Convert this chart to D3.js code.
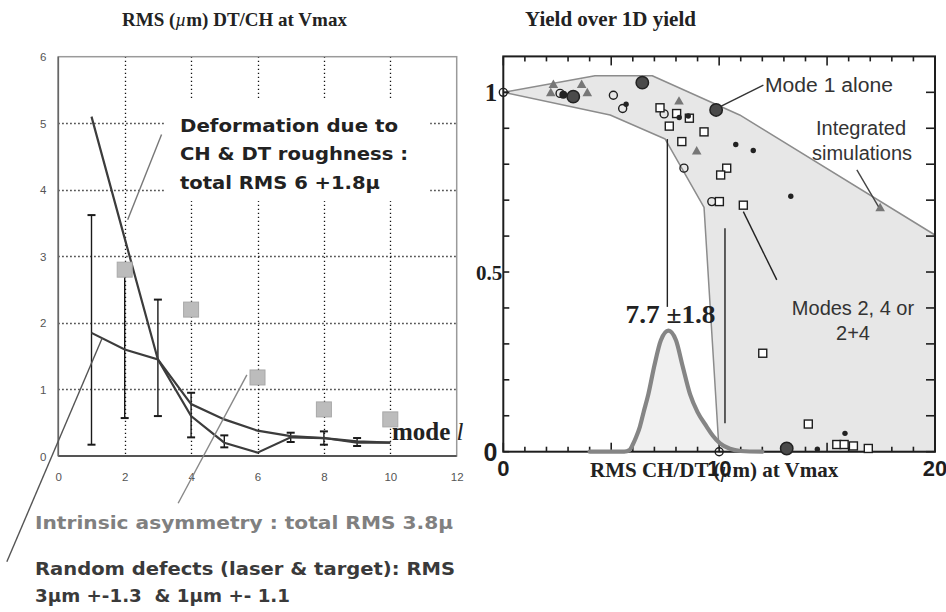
<!DOCTYPE html>
<html><head><meta charset="utf-8">
<script src="https://cdn.jsdelivr.net/npm/d3@7"></script>
<style>body{margin:0;background:#fff;} svg{display:block;}</style>
</head><body>
<svg id="chart" width="946" height="612"></svg>
<script>
// ---------- left panel: RMS (µm) per perturbation mode ----------
const modes = [1, 2, 3, 4, 5, 6, 7, 8, 9, 10];
const deformationRms = [5.1, 3.27, 1.45, 0.78, 0.55, 0.38, 0.3, 0.27, 0.22, 0.2];
const randomRms = [1.85, 1.6, 1.45, 0.6, 0.2, 0.05, 0.28, 0.27, 0.2, 0.2];
const randomErrLow = [0.17, 0.57, 0.6, 0.28, 0.13, null, 0.21, 0.17, 0.15, null];
const randomErrHigh = [3.62, 2.75, 2.35, 0.95, 0.31, null, 0.35, 0.37, 0.27, null];
const asymmetryModes = [2, 4, 6, 8, 10];
const asymmetryRms = [2.8, 2.2, 1.18, 0.7, 0.55];
const leftXTicks = [0, 2, 4, 6, 8, 10, 12];
const leftYTicks = [0, 1, 2, 3, 4, 5, 6];

// ---------- right panel: yield over 1D yield vs RMS ----------
const envelopeX = [0, 4.25, 6.9, 10.95, 20, 20, 10, 9.3, 7.5, 4.95, 0];
const envelopeY = [1.0, 1.046, 1.046, 0.937, 0.603, 0, 0, 0.68, 0.87, 0.937, 1.0];
const rmsDistX = [4.0, 5.6, 5.85, 6.0, 6.15, 6.33, 6.5, 6.72, 7.0, 7.3, 7.65, 8.0, 8.3, 8.65, 9.0, 9.42, 9.7, 10.04, 10.5, 11.0, 12.0];
const rmsDistY = [0, 0, 0.005, 0.02, 0.04, 0.07, 0.11, 0.16, 0.24, 0.31, 0.337, 0.31, 0.24, 0.16, 0.11, 0.07, 0.045, 0.023, 0.008, 0.002, 0];
const rmsMean = 7.7;
const rmsSpread = 1.8;
const triangleX = [2.32, 2.20, 3.63, 3.89, 8.14, 8.96, 17.46];
const triangleY = [1.02, 0.997, 1.02, 0.997, 0.974, 0.835, 0.677];
const bigDotX = [3.24, 6.44, 9.86, 13.13];
const bigDotY = [0.988, 1.027, 0.951, 0.009];
const smallDotX = [2.78];
const smallDotY = [0.993];
const openCircleX = [0, 2.63, 5.10, 5.53, 7.45, 8.37, 9.66, 10];
const openCircleY = [1.0, 0.997, 0.992, 0.955, 0.94, 0.789, 0.696, 0];
const openSquareX = [7.26, 7.69, 8.03, 8.62, 8.27, 9.30, 10.35, 10.07, 10.01, 11.12, 12.02, 14.13, 15.45, 15.79, 16.22, 16.91];
const openSquareY = [0.957, 0.906, 0.941, 0.928, 0.863, 0.890, 0.789, 0.770, 0.696, 0.686, 0.274, 0.077, 0.020, 0.020, 0.016, 0.009];
const starX = [5.69, 8.15, 8.57, 10.77, 11.58, 13.32, 15.83, 14.55];
const starY = [0.967, 0.93, 0.934, 0.855, 0.838, 0.711, 0.051, 0.007];
const rightXLabels = ["0", "10", "20"];
const rightXLabelValues = [0, 10, 20];
const rightYLabels = ["0", "0.5", "1"];
const rightYLabelValues = [0, 0.5, 1];

const svg = d3.select("#chart");
const serif = "'Liberation Serif','DejaVu Serif',serif";
const sans = "'Liberation Sans','DejaVu Sans',sans-serif";
const rounded = "'DejaVu Sans',sans-serif";

// =============== LEFT PANEL ===============
const xL = d3.scaleLinear().domain([0, 12]).range([58.3, 456.7]);
const yL = d3.scaleLinear().domain([0, 6]).range([456, 56.7]);
const gL = svg.append("g");

// dotted grid
const gridStyle = sel => sel.attr("stroke", "#111").attr("stroke-width", 1.3).attr("stroke-dasharray", "1.3,2.7");
gL.append("g").selectAll("line").data(leftXTicks.filter(t => t > 0 && t < 12)).join("line")
  .attr("x1", d => Math.round(xL(d)) + 0.5).attr("x2", d => Math.round(xL(d)) + 0.5).attr("y1", yL(6)).attr("y2", yL(0))
  .call(gridStyle);
gL.append("g").selectAll("line").data(leftYTicks.filter(t => t > 0 && t < 6)).join("line")
  .attr("x1", xL(0)).attr("x2", xL(12)).attr("y1", d => Math.round(yL(d)) + 0.5).attr("y2", d => Math.round(yL(d)) + 0.5)
  .call(gridStyle);

// frame
gL.append("rect").attr("x", xL(0)).attr("y", yL(6)).attr("width", xL(12) - xL(0)).attr("height", yL(0) - yL(6))
  .attr("fill", "none").attr("stroke", "#9a9a9a").attr("stroke-width", 1.5);
gL.append("line").attr("x1", xL(0)).attr("x2", xL(12)).attr("y1", yL(0)).attr("y2", yL(0)).attr("stroke", "#555").attr("stroke-width", 1.8);
gL.append("line").attr("x1", xL(0)).attr("x2", xL(0)).attr("y1", yL(0)).attr("y2", yL(6)).attr("stroke", "#666").attr("stroke-width", 1.6);

// tick labels via d3 axes
const axL = gL.append("g").attr("transform", `translate(${xL(0) - 15},0)`)
  .call(d3.axisLeft(yL).tickValues(leftYTicks).tickFormat(d3.format("d")).tickSize(0).tickPadding(0));
const axB = gL.append("g").attr("transform", `translate(0,${yL(0) + 21})`)
  .call(d3.axisBottom(xL).tickValues(leftXTicks).tickFormat(d3.format("d")).tickSize(0).tickPadding(0));
[axL, axB].forEach(a => {
  a.select(".domain").remove();
  a.selectAll("text").attr("font-family", sans).attr("font-size", 11.5).attr("fill", "#555");
});
axL.selectAll("text").attr("text-anchor", "middle").attr("dy", "0.35em");
axB.selectAll("text").attr("dy", "0.35em");

// white backing under the deformation caption
gL.append("rect").attr("x", xL(3.2)).attr("y", yL(5.35)).attr("width", xL(11.2) - xL(3.2)).attr("height", yL(3.83) - yL(5.35))
  .attr("fill", "#fff");

// error bars
const errData = modes.map((m, i) => ({ m, lo: randomErrLow[i], hi: randomErrHigh[i] })).filter(d => d.lo != null);
const gErr = gL.append("g").attr("stroke", "#1a1a1a").attr("stroke-width", 1.4);
gErr.selectAll("line.v").data(errData).join("line").attr("class", "v")
  .attr("x1", d => xL(d.m)).attr("x2", d => xL(d.m)).attr("y1", d => yL(d.lo)).attr("y2", d => yL(d.hi));
gErr.selectAll("line.lo").data(errData).join("line").attr("class", "lo")
  .attr("x1", d => xL(d.m) - 4).attr("x2", d => xL(d.m) + 4).attr("y1", d => yL(d.lo)).attr("y2", d => yL(d.lo)).attr("stroke-width", 2);
gErr.selectAll("line.hi").data(errData).join("line").attr("class", "hi")
  .attr("x1", d => xL(d.m) - 4).attr("x2", d => xL(d.m) + 4).attr("y1", d => yL(d.hi)).attr("y2", d => yL(d.hi)).attr("stroke-width", 2);

// RMS lines
const lineL = d3.line().x(d => xL(d[0])).y(d => yL(d[1]));
gL.append("path").datum(modes.map((m, i) => [m, deformationRms[i]]))
  .attr("d", lineL).attr("fill", "none").attr("stroke", "#3c3c3c").attr("stroke-width", 2.2);
gL.append("path").datum(modes.map((m, i) => [m, randomRms[i]]))
  .attr("d", lineL).attr("fill", "none").attr("stroke", "#3c3c3c").attr("stroke-width", 2.2);

// intrinsic asymmetry squares
gL.append("g").selectAll("rect").data(asymmetryModes.map((m, i) => [m, asymmetryRms[i]])).join("rect")
  .attr("x", d => xL(d[0]) - 7.5).attr("y", d => yL(d[1]) - 7.5).attr("width", 15).attr("height", 15)
  .attr("fill", "#bcbcbc").attr("stroke", "#a8a8a8").attr("stroke-width", 1);

// pointer lines
const pointer = (g, sx, sy, a, b, c, d, col) => g.append("line")
  .attr("x1", sx(a)).attr("y1", sy(b)).attr("x2", sx(c)).attr("y2", sy(d))
  .attr("stroke", col).attr("stroke-width", 1.4);
pointer(gL, xL, yL, 3.11, 4.83, 2.09, 3.55, "#777");
pointer(gL, xL, yL, 5.68, 1.22, 3.61, -0.71, "#888");
pointer(gL, xL, yL, 1.32, 1.77, -1.55, -1.59, "#555");

// captions
const cap = gL.append("g").attr("font-family", rounded).attr("font-weight", "bold").attr("font-size", 18).attr("fill", "#222");
[["Deformation due to", 218], ["CH & DT roughness :", 228], ["total RMS 6 +1.8\u00b5", 200]].forEach((t, i) => {
  cap.append("text").attr("x", 180).attr("y", 132 + i * 28.3).text(t[0])
    .attr("textLength", t[1]).attr("lengthAdjust", "spacingAndGlyphs");
});
gL.append("text").attr("x", 392).attr("y", 440).attr("font-family", serif).attr("font-weight", "bold")
  .attr("font-size", 25).attr("fill", "#222")
  .call(t => { t.append("tspan").text("mode "); t.append("tspan").attr("font-style", "italic").attr("font-weight", "normal").text("l"); });

const bottomCap = svg.append("g").attr("font-family", rounded).attr("font-weight", "bold").attr("font-size", 18);
bottomCap.append("text").attr("x", 35).attr("y", 529).attr("fill", "#808080")
  .text("Intrinsic asymmetry : total RMS 3.8\u00b5").attr("textLength", 418).attr("lengthAdjust", "spacingAndGlyphs");
bottomCap.append("text").attr("x", 35).attr("y", 575).attr("fill", "#3a3a3a")
  .text("Random defects (laser & target): RMS").attr("textLength", 420).attr("lengthAdjust", "spacingAndGlyphs");
bottomCap.append("text").attr("x", 35).attr("y", 602).attr("fill", "#3a3a3a").attr("xml:space", "preserve")
  .text("3\u00b5m +-1.3  & 1\u00b5m +- 1.1").attr("textLength", 255).attr("lengthAdjust", "spacingAndGlyphs");

// =============== RIGHT PANEL ===============
const xR = d3.scaleLinear().domain([0, 20]).range([503.3, 935]);
const yR = d3.scaleLinear().domain([0, 1.1]).range([451.7, 56.4]);
const gR = svg.append("g");

// shaded envelope
gR.append("path").datum(envelopeX.map((x, i) => [x, envelopeY[i]]))
  .attr("d", d3.line().x(d => xR(d[0])).y(d => yR(d[1])))
  .attr("fill", "#e7e7e7").attr("stroke", "#8c8c8c").attr("stroke-width", 1.5).attr("stroke-linejoin", "round");

// RMS distribution
const distPts = rmsDistX.map((x, i) => [x, rmsDistY[i]]);
gR.append("path").datum(distPts)
  .attr("d", d3.area().x(d => xR(d[0])).y0(yR(0)).y1(d => yR(d[1])).curve(d3.curveMonotoneX))
  .attr("fill", "#f0f0f0");

// frame + ticks
gR.append("rect").attr("x", xR(0)).attr("y", yR(1.1)).attr("width", xR(20) - xR(0)).attr("height", yR(0) - yR(1.1))
  .attr("fill", "none").attr("stroke", "#1e1e1e").attr("stroke-width", 2);
const xt = d3.range(0, 21, 1);
const yt = d3.range(0, 1.05, 0.1);
const tk = gR.append("g").attr("stroke", "#1e1e1e").attr("stroke-width", 1.6);
tk.selectAll("line.t").data(xt).join("line").attr("class", "t")
  .attr("x1", d => xR(d)).attr("x2", d => xR(d)).attr("y1", yR(1.1)).attr("y2", d => yR(1.1) + (d % 5 === 0 ? 9 : 5));
tk.selectAll("line.b").data(xt).join("line").attr("class", "b")
  .attr("x1", d => xR(d)).attr("x2", d => xR(d)).attr("y1", yR(0)).attr("y2", d => yR(0) - (d % 5 === 0 ? 9 : 5));
tk.selectAll("line.l").data(yt).join("line").attr("class", "l")
  .attr("x1", xR(0)).attr("x2", xR(0) + 6).attr("y1", d => yR(d)).attr("y2", d => yR(d));
tk.selectAll("line.r").data(yt).join("line").attr("class", "r")
  .attr("x1", xR(20)).attr("x2", xR(20) - 9).attr("y1", d => yR(d)).attr("y2", d => yR(d));

// distribution curve
gR.append("path").datum(distPts)
  .attr("d", d3.line().x(d => xR(d[0])).y(d => yR(d[1])).curve(d3.curveMonotoneX))
  .attr("fill", "none").attr("stroke", "#858585").attr("stroke-width", 4.2).attr("stroke-linecap", "round");

// guide verticals
pointer(gR, xR, yR, 7.6, 0.87, 7.6, 0.403, "#222");
pointer(gR, xR, yR, 10.27, 0.622, 10.27, 0.079, "#222");

// markers
const pts = (xs, ys) => xs.map((x, i) => [x, ys[i]]);
gR.append("g").selectAll("path").data(pts(triangleX, triangleY)).join("path")
  .attr("transform", d => `translate(${xR(d[0])},${yR(d[1])})`)
  .attr("d", d3.symbol(d3.symbolTriangle, 40)).attr("fill", "#777");
gR.append("g").selectAll("circle").data(pts(openCircleX, openCircleY)).join("circle")
  .attr("cx", d => xR(d[0])).attr("cy", d => yR(d[1])).attr("r", 4)
  .attr("fill", "none").attr("stroke", "#1e1e1e").attr("stroke-width", 1.4);
gR.append("g").selectAll("rect").data(pts(openSquareX, openSquareY)).join("rect")
  .attr("x", d => xR(d[0]) - 4).attr("y", d => yR(d[1]) - 4).attr("width", 8).attr("height", 8)
  .attr("fill", "#fff").attr("stroke", "#1e1e1e").attr("stroke-width", 1.4);
gR.append("g").selectAll("circle").data(pts(starX, starY)).join("circle")
  .attr("cx", d => xR(d[0])).attr("cy", d => yR(d[1])).attr("r", 2.7).attr("fill", "#222");
gR.append("g").selectAll("circle").data(pts(bigDotX, bigDotY)).join("circle")
  .attr("cx", d => xR(d[0])).attr("cy", d => yR(d[1])).attr("r", 6.2)
  .attr("fill", "#4a4a4a").attr("stroke", "#222").attr("stroke-width", 1.5);
gR.append("g").selectAll("circle").data(pts(smallDotX, smallDotY)).join("circle")
  .attr("cx", d => xR(d[0])).attr("cy", d => yR(d[1])).attr("r", 4)
  .attr("fill", "#222");

// annotation pointers
pointer(gR, xR, yR, 10.05, 0.96, 12.05, 1.02, "#333");
pointer(gR, xR, yR, 16.38, 0.784, 17.38, 0.682, "#444");
pointer(gR, xR, yR, 11.12, 0.668, 12.67, 0.478, "#222");

// annotation text
const ann = gR.append("g").attr("font-family", sans).attr("font-size", 20).attr("fill", "#333");
ann.append("text").attr("x", 765).attr("y", 92).text("Mode 1 alone").attr("textLength", 128).attr("lengthAdjust", "spacingAndGlyphs");
ann.append("text").attr("x", 861).attr("y", 135).attr("text-anchor", "middle").text("Integrated");
ann.append("text").attr("x", 862).attr("y", 160).attr("text-anchor", "middle").text("simulations");
ann.append("text").attr("x", 853).attr("y", 315).attr("text-anchor", "middle").text("Modes 2, 4 or");
ann.append("text").attr("x", 853).attr("y", 340).attr("text-anchor", "middle").text("2+4");

gR.append("text").attr("x", xR(rmsMean) + 1).attr("y", 323).attr("text-anchor", "middle")
  .attr("font-family", serif).attr("font-weight", "bold").attr("font-size", 25).attr("fill", "#222")
  .text(`${rmsMean} \u00b1${rmsSpread}`).attr("textLength", 90).attr("lengthAdjust", "spacingAndGlyphs");

// axis title (drawn first so the tick numbers sit on top of it)
gR.append("text").attr("x", 590).attr("y", 477).attr("font-family", serif).attr("font-weight", "bold")
  .attr("font-size", 21).attr("fill", "#222")
  .call(t => {
    t.append("tspan").text("RMS CH/DT (");
    t.append("tspan").attr("font-style", "italic").attr("font-weight", "normal").text("\u00b5");
    t.append("tspan").text("m) at Vmax");
  });

// axis labels
gR.append("g").selectAll("text").data(rightYLabelValues).join("text")
  .attr("x", d => d === 0.5 ? xR(0) - 1 : xR(0) - 6).attr("y", d => yR(d)).attr("dy", "0.36em")
  .attr("text-anchor", "end").attr("font-weight", "bold").attr("fill", "#1e1e1e")
  .attr("font-size", (d, i) => i === 1 ? 21 : 25)
  .attr("font-family", (d, i) => i === 0 ? sans : serif)
  .text((d, i) => rightYLabels[i]);
gR.append("g").selectAll("text").data(rightXLabelValues).join("text")
  .attr("x", d => xR(d)).attr("y", 476).attr("text-anchor", "middle")
  .attr("font-family", sans).attr("font-weight", "bold").attr("font-size", 22).attr("fill", "#1e1e1e")
  .text((d, i) => rightXLabels[i]);

// panel titles
const ttl = svg.append("g").attr("font-family", serif).attr("font-weight", "bold").attr("font-size", 19).attr("fill", "#222");
ttl.append("text").attr("x", 122).attr("y", 26)
  .call(t => {
    t.append("tspan").text("RMS (");
    t.append("tspan").attr("font-style", "italic").attr("font-weight", "normal").text("\u00b5");
    t.append("tspan").text("m) DT/CH at Vmax");
  });
ttl.append("text").attr("x", 525).attr("y", 26).attr("font-size", 21).text("Yield over 1D yield");
</script>
</body></html>
